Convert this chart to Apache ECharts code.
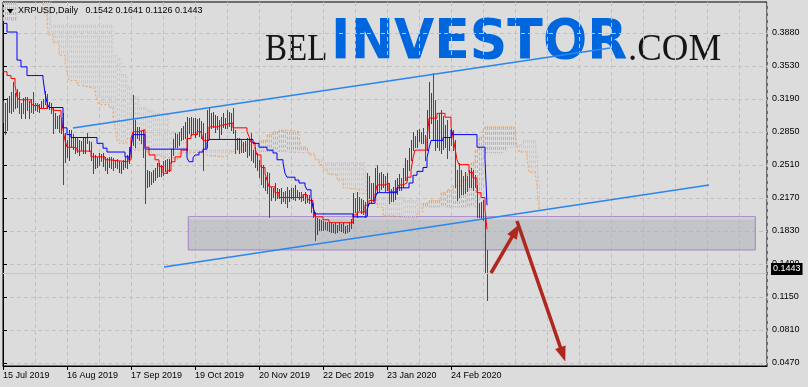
<!DOCTYPE html>
<html><head><meta charset="utf-8">
<script src="https://cdn.jsdelivr.net/npm/echarts@6/dist/echarts.min.js"></script>
<style>html,body{margin:0;padding:0;background:#dcdcdc;overflow:hidden}#c{width:808px;height:387px}</style>
</head><body><div id="c"></div>
<script>
// ---------- data ----------
const symbolName = 'XRPUSD,Daily';
// day index 0 = 15 Jul 2019, one bar per day
const xTickDays = [0, 32, 64, 96, 128, 160, 192, 224];
const xTickLabels = ['15 Jul 2019','16 Aug 2019','17 Sep 2019','19 Oct 2019','20 Nov 2019','22 Dec 2019','23 Jan 2020','24 Feb 2020'];
const yTickValues = [0.0470,0.0811,0.1152,0.1493,0.1834,0.2175,0.2516,0.2857,0.3198,0.3539,0.3880];
const yTickLabels = ['0.0470','0.0810','0.1150','0.1490','0.1830','0.2170','0.2510','0.2850','0.3190','0.3530','0.3880'];
// [open, high, low, close]
const bars = [
[0.305,0.318,0.296,0.312],[0.312,0.316,0.284,0.290],[0.290,0.321,0.288,0.318],[0.318,0.323,0.306,0.320],[0.320,0.327,0.305,0.309],
[0.322,0.337,0.307,0.310],[0.310,0.326,0.310,0.322],[0.322,0.330,0.312,0.318],[0.318,0.327,0.305,0.308],[0.308,0.316,0.300,0.313],
[0.313,0.321,0.305,0.309],[0.309,0.322,0.300,0.318],[0.318,0.322,0.308,0.311],[0.311,0.318,0.300,0.316],[0.316,0.320,0.306,0.310],
[0.318,0.327,0.305,0.309],[0.309,0.316,0.308,0.314],[0.314,0.316,0.307,0.309],[0.309,0.315,0.306,0.313],[0.313,0.318,0.312,0.317],
[0.314,0.320,0.312,0.318],[0.318,0.328,0.315,0.323],[0.323,0.325,0.311,0.313],[0.313,0.317,0.309,0.315],[0.315,0.316,0.305,0.307],
[0.307,0.311,0.285,0.292],[0.292,0.305,0.290,0.300],[0.300,0.302,0.290,0.298],[0.298,0.303,0.286,0.290],[0.290,0.300,0.285,0.296],
[0.296,0.305,0.232,0.262],[0.262,0.285,0.255,0.280],[0.268,0.277,0.260,0.274],[0.266,0.288,0.257,0.283],[0.283,0.288,0.270,0.274],
[0.282,0.284,0.268,0.271],[0.271,0.280,0.264,0.277],[0.277,0.279,0.265,0.268],[0.268,0.277,0.262,0.274],[0.274,0.276,0.267,0.269],
[0.269,0.279,0.264,0.276],[0.270,0.279,0.264,0.277],[0.283,0.285,0.274,0.276],[0.270,0.276,0.266,0.273],[0.273,0.275,0.257,0.260],
[0.252,0.264,0.243,0.260],[0.255,0.262,0.248,0.258],[0.252,0.260,0.250,0.258],[0.262,0.264,0.252,0.254],[0.262,0.263,0.256,0.258],
[0.252,0.264,0.251,0.261],[0.259,0.260,0.246,0.249],[0.246,0.259,0.243,0.256],[0.259,0.260,0.250,0.252],[0.258,0.260,0.248,0.252],
[0.256,0.259,0.246,0.249],[0.256,0.257,0.250,0.252],[0.257,0.258,0.249,0.251],[0.247,0.256,0.244,0.253],[0.246,0.255,0.243,0.253],
[0.249,0.257,0.247,0.255],[0.252,0.260,0.250,0.258],[0.250,0.262,0.249,0.258],[0.256,0.270,0.254,0.266],[0.262,0.277,0.260,0.274],
[0.274,0.324,0.272,0.300],[0.298,0.298,0.270,0.280],[0.280,0.291,0.280,0.288],[0.288,0.291,0.277,0.281],[0.284,0.287,0.274,0.278],
[0.280,0.288,0.260,0.265],[0.265,0.267,0.212,0.240],[0.240,0.246,0.229,0.243],[0.236,0.245,0.230,0.241],[0.241,0.244,0.232,0.236],
[0.236,0.246,0.234,0.243],[0.243,0.248,0.236,0.240],[0.240,0.254,0.239,0.250],[0.250,0.254,0.240,0.244],[0.244,0.252,0.240,0.248],
[0.252,0.256,0.241,0.245],[0.248,0.257,0.245,0.254],[0.254,0.258,0.243,0.247],[0.247,0.258,0.245,0.256],[0.256,0.268,0.254,0.266],
[0.266,0.278,0.262,0.274],[0.274,0.285,0.270,0.281],[0.281,0.284,0.270,0.276],[0.276,0.286,0.272,0.283],[0.283,0.290,0.277,0.287],
[0.287,0.292,0.278,0.282],[0.282,0.296,0.280,0.292],[0.292,0.301,0.267,0.296],[0.296,0.300,0.285,0.289],[0.289,0.301,0.283,0.297],
[0.297,0.300,0.285,0.290],[0.290,0.300,0.281,0.295],[0.295,0.299,0.284,0.288],[0.288,0.300,0.282,0.294],[0.294,0.297,0.280,0.291],
[0.291,0.295,0.246,0.270],[0.275,0.285,0.269,0.272],[0.272,0.308,0.270,0.300],[0.305,0.311,0.279,0.296],[0.293,0.305,0.290,0.301],
[0.296,0.306,0.291,0.303],[0.296,0.303,0.286,0.300],[0.300,0.302,0.289,0.292],[0.296,0.298,0.280,0.284],[0.284,0.301,0.284,0.298],
[0.295,0.305,0.291,0.302],[0.296,0.300,0.290,0.298],[0.306,0.308,0.290,0.295],[0.295,0.306,0.292,0.303],[0.296,0.305,0.288,0.302],
[0.305,0.310,0.285,0.290],[0.288,0.288,0.264,0.268],[0.270,0.280,0.268,0.277],[0.266,0.279,0.264,0.275],[0.277,0.277,0.265,0.268],
[0.266,0.275,0.265,0.272],[0.267,0.276,0.266,0.273],[0.278,0.280,0.260,0.264],[0.264,0.277,0.262,0.273],[0.283,0.285,0.257,0.262],
[0.257,0.267,0.255,0.264],[0.268,0.270,0.250,0.254],[0.262,0.264,0.246,0.250],[0.255,0.257,0.239,0.243],[0.248,0.252,0.232,0.236],
[0.250,0.252,0.229,0.233],[0.228,0.239,0.226,0.236],[0.242,0.244,0.223,0.226],[0.235,0.243,0.198,0.214],[0.216,0.229,0.215,0.225],
[0.220,0.228,0.219,0.226],[0.217,0.233,0.215,0.230],[0.227,0.228,0.218,0.221],[0.221,0.227,0.217,0.224],[0.216,0.228,0.212,0.225],
[0.222,0.224,0.214,0.217],[0.222,0.225,0.212,0.215],[0.226,0.229,0.208,0.212],[0.215,0.226,0.214,0.223],[0.219,0.228,0.218,0.225],
[0.222,0.228,0.216,0.220],[0.217,0.231,0.215,0.228],[0.220,0.226,0.219,0.224],[0.224,0.224,0.216,0.218],[0.223,0.224,0.214,0.216],
[0.220,0.221,0.215,0.216],[0.215,0.224,0.212,0.222],[0.220,0.221,0.213,0.215],[0.219,0.221,0.212,0.214],[0.214,0.215,0.203,0.206],
[0.208,0.212,0.198,0.201],[0.201,0.203,0.174,0.188],[0.183,0.197,0.180,0.192],[0.188,0.196,0.184,0.193],[0.193,0.195,0.184,0.187],
[0.190,0.194,0.184,0.186],[0.190,0.193,0.185,0.187],[0.191,0.193,0.184,0.186],[0.186,0.192,0.183,0.190],[0.190,0.193,0.182,0.185],
[0.185,0.191,0.182,0.189],[0.189,0.192,0.181,0.184],[0.184,0.190,0.182,0.188],[0.188,0.193,0.184,0.186],[0.186,0.191,0.183,0.190],
[0.190,0.192,0.182,0.184],[0.184,0.189,0.181,0.187],[0.187,0.190,0.182,0.184],[0.184,0.193,0.183,0.191],[0.191,0.196,0.186,0.194],
[0.194,0.223,0.192,0.215],[0.215,0.218,0.203,0.206],[0.206,0.224,0.198,0.218],[0.218,0.219,0.205,0.207],[0.204,0.216,0.202,0.212],
[0.212,0.215,0.201,0.205],[0.210,0.213,0.198,0.202],[0.202,0.243,0.200,0.236],[0.230,0.240,0.218,0.235],[0.232,0.233,0.212,0.218],
[0.216,0.233,0.214,0.229],[0.222,0.249,0.219,0.242],[0.235,0.252,0.223,0.246],[0.242,0.243,0.225,0.229],[0.229,0.244,0.227,0.240],
[0.232,0.242,0.229,0.238],[0.240,0.240,0.225,0.228],[0.228,0.243,0.226,0.238],[0.228,0.233,0.212,0.216],[0.224,0.227,0.214,0.217],
[0.215,0.229,0.214,0.226],[0.218,0.236,0.216,0.230],[0.224,0.238,0.222,0.235],[0.228,0.242,0.226,0.238],[0.238,0.238,0.226,0.229],
[0.229,0.249,0.229,0.245],[0.240,0.259,0.236,0.255],[0.255,0.257,0.236,0.240],[0.247,0.269,0.246,0.265],[0.262,0.277,0.257,0.273],
[0.270,0.286,0.267,0.282],[0.282,0.282,0.270,0.274],[0.274,0.288,0.270,0.285],[0.280,0.289,0.276,0.286],[0.286,0.286,0.274,0.277],
[0.277,0.290,0.274,0.287],[0.283,0.283,0.257,0.262],[0.268,0.308,0.267,0.302],[0.290,0.337,0.280,0.330],[0.300,0.326,0.295,0.322],
[0.330,0.347,0.277,0.295],[0.305,0.319,0.267,0.275],[0.275,0.298,0.270,0.292],[0.300,0.305,0.267,0.272],[0.272,0.308,0.264,0.300],
[0.298,0.302,0.268,0.275],[0.275,0.293,0.270,0.288],[0.290,0.298,0.259,0.265],[0.268,0.281,0.267,0.276],[0.285,0.286,0.272,0.275],
[0.284,0.288,0.267,0.270],[0.270,0.277,0.229,0.238],[0.240,0.246,0.215,0.222],[0.245,0.254,0.219,0.225],[0.225,0.246,0.222,0.240],
[0.240,0.240,0.222,0.228],[0.228,0.244,0.223,0.240],[0.240,0.240,0.225,0.230],[0.243,0.246,0.229,0.232],[0.232,0.249,0.229,0.244],
[0.245,0.246,0.226,0.230],[0.240,0.241,0.229,0.232],[0.231,0.231,0.198,0.203],[0.200,0.212,0.198,0.209],[0.200,0.213,0.197,0.210],
[0.213,0.215,0.195,0.197],[0.197,0.198,0.140,0.1542],[0.1542,0.1641,0.1126,0.1443]
];
// Ichimoku lines: [day, value] at each change (held until the next point)
const tenkan = [[0,0.348],[2,0.344],[4,0.341],[6,0.334],[7,0.322],[8,0.319],[14,0.316],[15,0.313],[18,0.310],[22,0.314],[23,0.311],[25,0.308],[29,0.302],[30,0.288],[31,0.277],[32,0.270],[35,0.269],[37,0.266],[44,0.260],[51,0.257],[53,0.255],[62,0.257],[64,0.279],[65,0.286],[68,0.288],[71,0.270],[73,0.262],[76,0.257],[78,0.250],[80,0.243],[82,0.246],[84,0.255],[86,0.260],[89,0.267],[92,0.279],[94,0.283],[97,0.286],[99,0.288],[100,0.277],[103,0.291],[107,0.293],[110,0.295],[115,0.290],[122,0.286],[123,0.281],[124,0.275],[126,0.269],[127,0.262],[129,0.249],[131,0.243],[132,0.236],[133,0.229],[136,0.223],[138,0.218],[150,0.221],[152,0.218],[153,0.215],[155,0.208],[156,0.198],[160,0.195],[163,0.192],[175,0.200],[177,0.203],[181,0.210],[183,0.215],[186,0.221],[187,0.231],[191,0.233],[193,0.224],[197,0.228],[198,0.231],[200,0.233],[202,0.239],[204,0.246],[205,0.259],[206,0.267],[212,0.277],[213,0.300],[217,0.305],[221,0.301],[224,0.291],[225,0.280],[226,0.269],[227,0.257],[228,0.252],[233,0.244],[235,0.238],[237,0.223],[239,0.218],[241,0.205],[242,0.185]];
const kijun = [[0,0.398],[2,0.389],[7,0.360],[9,0.353],[12,0.344],[20,0.341],[21,0.326],[22,0.316],[23,0.311],[30,0.290],[32,0.283],[34,0.280],[47,0.274],[50,0.269],[52,0.265],[61,0.260],[63,0.257],[64,0.270],[65,0.283],[71,0.268],[92,0.259],[93,0.255],[95,0.259],[96,0.262],[98,0.265],[100,0.268],[102,0.275],[103,0.278],[125,0.274],[128,0.270],[132,0.267],[135,0.264],[137,0.257],[140,0.254],[141,0.243],[142,0.239],[146,0.236],[148,0.233],[151,0.230],[152,0.226],[154,0.218],[155,0.208],[156,0.201],[175,0.198],[182,0.205],[183,0.212],[186,0.217],[187,0.223],[197,0.228],[203,0.233],[205,0.241],[207,0.245],[210,0.249],[212,0.259],[213,0.269],[214,0.277],[220,0.280],[224,0.288],[225,0.283],[237,0.270],[241,0.257],[242,0.210]];
const senkouA = [[0,0.44],[20,0.408],[22,0.394],[23,0.386],[25,0.378],[28,0.365],[31,0.358],[32,0.347],[33,0.339],[37,0.334],[40,0.332],[43,0.331],[46,0.326],[47,0.319],[48,0.314],[53,0.311],[55,0.300],[56,0.291],[57,0.277],[58,0.274],[62,0.279],[64,0.267],[68,0.269],[72,0.265],[73,0.262],[77,0.260],[80,0.259],[85,0.257],[88,0.264],[93,0.265],[100,0.262],[103,0.260],[110,0.262],[113,0.265],[117,0.267],[119,0.272],[122,0.274],[128,0.277],[132,0.283],[135,0.286],[138,0.288],[142,0.286],[148,0.280],[149,0.270],[152,0.269],[153,0.262],[156,0.257],[158,0.252],[160,0.246],[162,0.243],[163,0.241],[167,0.236],[170,0.228],[173,0.226],[178,0.222],[182,0.218],[187,0.208],[190,0.199],[195,0.197],[202,0.197],[207,0.203],[210,0.212],[213,0.215],[219,0.223],[222,0.226],[225,0.230],[229,0.236],[232,0.243],[234,0.254],[236,0.267],[238,0.280],[240,0.288],[241,0.291],[256,0.285],[257,0.270],[258,0.265],[262,0.259],[263,0.244],[266,0.243],[267,0.229],[268,0.205]];
const senkouB = [[0,0.401],[7,0.43],[24,0.396],[55,0.365],[57,0.362],[59,0.345],[62,0.332],[65,0.322],[68,0.311],[72,0.308],[75,0.305],[83,0.286],[92,0.267],[128,0.265],[143,0.264],[156,0.257],[160,0.254],[181,0.246],[182,0.218],[200,0.215],[207,0.212],[209,0.208],[239,0.220],[240,0.259],[241,0.264],[250,0.266],[252,0.270],[256,0.2725],[260,0.277],[266,0.277],[267,0.262],[268,0.230]];
// drawn objects in chart coordinates [day, price]
const upperChannel = [[35,0.2898],[303.5,0.3725]];
const lowerChannel = [[80.5,0.1462],[353,0.2309]];
const zoneBox = [[92.65,0.1982],[376.15,0.1638]];
const arrowUp = [[244,0.140],[256.4,0.184]];
const arrowDown = [[257,0.1937],[279.9,0.0559]];

// ---------- chart ----------
const yMin = 0.0439, yMax = 0.42003, xMax = 382;
const bullColor = '#2f4f4f', bearColor = '#ff0000';
const last = bars[bars.length - 1];
const fmt = v => v.toFixed(4);
const header = symbolName + '   ' + last.map(fmt).join(' ');
function stepAt(arr, d) { let v = null; for (const p of arr) { if (p[0] <= d) v = p[1]; else break; } return v; }
const cloudEnd = senkouA[senkouA.length - 1][0];
const cloudData = [];
for (let d = 0; d <= cloudEnd; d++) cloudData.push([d, stepAt(senkouA, d), stepAt(senkouB, d)]);
const clampY = v => Math.max(yMin, Math.min(yMax, v));
const fontFam = '"Liberation Sans", Arial, sans-serif';
const axisFont = { fontFamily: fontFam, fontSize: 9, color: '#000' };

const chart = echarts.init(document.getElementById('c'), null, { renderer: 'canvas' });
chart.setOption({
  backgroundColor: '#dcdcdc',
  animation: false,
  grid: { left: 3, right: 41, top: 2, bottom: 21, show: true, borderColor: '#000', borderWidth: 1, backgroundColor: 'transparent' },
  xAxis: [
    { type: 'value', min: 0, max: xMax, position: 'bottom',
      axisLine: { show: true, lineStyle: { color: '#000' } },
      axisTick: { show: true, length: 4, lineStyle: { color: '#000' }, customValues: xTickDays },
      axisLabel: Object.assign({ show: true, customValues: xTickDays, align: 'left', margin: 5,
        formatter: v => { const i = xTickDays.indexOf(v); return i >= 0 ? xTickLabels[i] : ''; } }, axisFont),
      splitLine: { show: false } },
    { type: 'value', min: 0, max: xMax, interval: 16, position: 'top',
      axisLine: { show: false }, axisTick: { show: false }, axisLabel: { show: false },
      splitLine: { show: true, lineStyle: { color: '#c2c2c2', type: [4, 3], width: 1 } } }
  ],
  yAxis: { type: 'value', position: 'right', min: yMin, max: yMax,
    axisLine: { show: true, lineStyle: { color: '#000' } },
    axisTick: { show: true, length: 4, lineStyle: { color: '#000' }, customValues: yTickValues },
    axisLabel: Object.assign({ show: true, customValues: yTickValues, margin: 5,
      formatter: v => { let best = 0; yTickValues.forEach((t, i) => { if (Math.abs(t - v) < Math.abs(yTickValues[best] - v)) best = i; }); return yTickLabels[best]; } }, axisFont),
    splitLine: { show: true, lineStyle: { color: '#c2c2c2', type: [4, 3], width: 1 } } },
  graphic: [
    { type: 'text', z: 0, x: 265, y: 50.2, scaleX: 0.87, style: { text: 'BEL', font: '38px "Liberation Serif", serif', fill: '#161616', verticalAlign: 'middle', align: 'left' } },
    { type: 'text', z: 0, x: 331, y: 43.6, scaleX: 0.93, style: { text: 'INVESTOR', font: 'bold 56px "DejaVu Sans", sans-serif', fill: '#0066dd', verticalAlign: 'middle', align: 'left' } },
    { type: 'text', z: 0, x: 628, y: 50.2, scaleX: 0.97, style: { text: '.COM', font: '38px "Liberation Serif", serif', fill: '#161616', verticalAlign: 'middle', align: 'left' } },
    { type: 'polygon', z: 100, shape: { points: [[7, 9], [13.5, 9], [10.25, 13.5]] }, style: { fill: '#000' } },
    { type: 'text', z: 100, x: 18, y: 11, style: { text: header, font: '9px ' + fontFam, fill: '#000', verticalAlign: 'middle', align: 'left' } }
  ],
  series: [
    // bid line
    { type: 'line', data: [], z: 1, silent: true,
      markLine: { silent: true, animation: false, symbol: ['none', 'none'], data: [{ yAxis: last[3] }],
        lineStyle: { color: '#c6c6c6', width: 1, type: 'solid' }, label: { show: false }, emphasis: { disabled: true } } },
    // cloud hatch
    { type: 'custom', z: 2, silent: true, clip: true, data: cloudData, encode: { x: 0, y: [1, 2] },
      renderItem(params, api) {
        const d = api.value(0), a = api.value(1), b = api.value(2);
        if (a === b) return null;
        const p1 = api.coord([d, clampY(Math.max(a, b))]), p2 = api.coord([d, clampY(Math.min(a, b))]);
        const x = Math.round(p1[0]) + 0.5;
        return { type: 'line', shape: { x1: x, y1: p1[1], x2: x, y2: p2[1] },
          style: { stroke: a >= b ? '#f4a460' : '#d8bfd8', lineWidth: 1, lineDash: [3, 2] } };
      } },
    { type: 'line', name: 'Senkou A', z: 3, data: senkouA, step: 'end', symbol: 'none', silent: true,
      lineStyle: { color: '#f4a460', width: 1, type: [2, 2] } },
    { type: 'line', name: 'Senkou B', z: 3, data: senkouB, step: 'end', symbol: 'none', silent: true,
      lineStyle: { color: '#d8bfd8', width: 1, type: [2, 2] } },
    // price bars
    { type: 'custom', z: 4, silent: true, clip: true,
      data: bars.map((b, i) => [i, b[0], b[1], b[2], b[3]]), encode: { x: 0, y: [1, 2, 3, 4] },
      renderItem(params, api) {
        const d = api.value(0), o = api.value(1), h = api.value(2), l = api.value(3), c = api.value(4);
        const top = api.coord([d, h]), bot = api.coord([d, l]);
        const x = Math.round(top[0]) + 0.5;
        return { type: 'line', shape: { x1: x, y1: Math.round(top[1]), x2: x, y2: Math.round(bot[1]) + 1 },
          style: { stroke: c >= o ? bullColor : bearColor, lineWidth: 1 } };
      } },
    { type: 'line', name: 'Tenkan', z: 5, data: tenkan, step: 'end', symbol: 'none', silent: true,
      lineStyle: { color: '#ff0000', width: 1 } },
    { type: 'line', name: 'Kijun', z: 5, data: kijun, step: 'end', symbol: 'none', silent: true,
      lineStyle: { color: '#0000ff', width: 1 } },
    // channel lines
    { type: 'line', data: [], z: 6, silent: true,
      markLine: { silent: true, animation: false, symbol: ['none', 'none'], label: { show: false },
        lineStyle: { color: '#2a86ef', width: 1.4, type: 'solid' }, emphasis: { disabled: true },
        data: [[{ coord: upperChannel[0] }, { coord: upperChannel[1] }], [{ coord: lowerChannel[0] }, { coord: lowerChannel[1] }]] } },
    // zone rectangle
    { type: 'line', data: [], z: 7, silent: true,
      markArea: { silent: true, animation: false, label: { show: false }, emphasis: { disabled: true },
        itemStyle: { color: { type: 'linear', x: 0, y: 0, x2: 0, y2: 1, colorStops: [
          { offset: 0, color: 'rgba(236,236,240,0.55)' }, { offset: 0.12, color: 'rgba(172,174,182,0.52)' }, { offset: 1, color: 'rgba(172,174,182,0.52)' }] },
          borderColor: '#a284c8', borderWidth: 1 },
        data: [[{ coord: zoneBox[0] }, { coord: zoneBox[1] }]] } },
    // arrows
    { type: 'line', data: [], z: 8, silent: true,
      markLine: { silent: true, animation: false, symbol: ['none', 'triangle'], symbolSize: [11, 15], label: { show: false },
        lineStyle: { color: '#b0281d', width: 3.5, type: 'solid' }, itemStyle: { color: '#b0281d' }, emphasis: { disabled: true },
        data: [[{ coord: arrowUp[0] }, { coord: arrowUp[1] }], [{ coord: arrowDown[0] }, { coord: arrowDown[1] }]] } },
    // bid price label on the price scale
    { type: 'line', data: [], z: 20, silent: true,
      markLine: { silent: true, animation: false, symbol: ['none', 'none'], data: [{ yAxis: last[3] }],
        lineStyle: { color: 'rgba(0,0,0,0)', width: 1 }, emphasis: { disabled: true },
        label: { show: true, position: 'end', distance: 4, offset: [0, -4], formatter: fmt(last[3]), color: '#ffffff', backgroundColor: '#000000',
          padding: [2, 2, 1, 2], fontSize: 9, lineHeight: 9, verticalAlign: 'middle', fontFamily: fontFam, opacity: 1 } } }
  ]
});
</script></body></html>
